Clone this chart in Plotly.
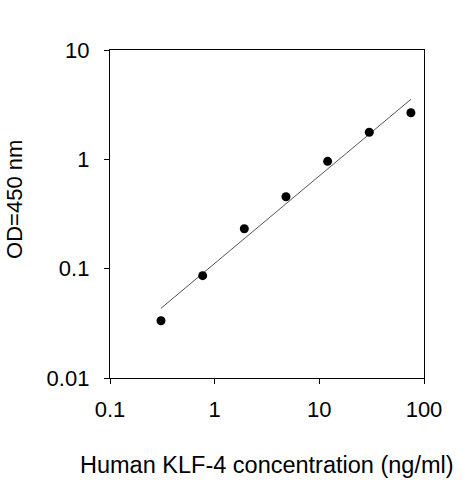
import plotly.graph_objects as go

# standard curve points
conc = [0.307, 0.768, 1.92, 4.8, 12.0, 30.0, 75.0]
od450 = [0.0334, 0.0863, 0.232, 0.455, 0.959, 1.77, 2.67]

# ends of the fitted line
fit_conc = [0.307, 75.0]
fit_od = [0.0434, 3.54]

x_ticks = [0.1, 1, 10, 100]
x_labels = ["0.1", "1", "10", "100"]
y_ticks = [0.01, 0.1, 1, 10]
y_labels = ["0.01", "0.1", "1", "10"]

FONT = "Liberation Sans, Arial, sans-serif"


def main():
    fig = go.Figure()

    fig.add_trace(go.Scatter(
        x=fit_conc, y=fit_od, mode="lines",
        line=dict(color="#555555", width=1),
        hoverinfo="skip",
    ))
    fig.add_trace(go.Scatter(
        x=conc, y=od450, mode="markers",
        marker=dict(color="black", size=9),
    ))

    axis_style = dict(
        type="log",
        showline=True, linecolor="black", linewidth=1.3, mirror=True,
        ticks="outside", ticklen=5, tickcolor="black", tickwidth=1.3,
        showgrid=False, zeroline=False,
        tickfont=dict(family=FONT, size=22, color="black"),
    )
    fig.update_xaxes(range=[-1, 2], tickvals=x_ticks, ticktext=x_labels,
                     ticklabelstandoff=6, **axis_style)
    fig.update_yaxes(range=[-2, 1], tickvals=y_ticks, ticktext=y_labels,
                     ticklabelstandoff=10, **axis_style)

    fig.add_annotation(text="Human KLF-4 concentration (ng/ml)",
                       xref="paper", yref="paper", x=0.5, y=-0.265,
                       xanchor="center", yanchor="middle", showarrow=False,
                       font=dict(family=FONT, size=23.5, color="black"))
    fig.add_annotation(text="OD=450 nm", textangle=-90,
                       xref="paper", yref="paper", x=-0.3025, y=0.543,
                       xanchor="center", yanchor="middle", showarrow=False,
                       font=dict(family=FONT, size=22, color="black"))

    fig.update_layout(
        width=463, height=480,
        margin=dict(l=110, r=39, t=50, b=102),
        paper_bgcolor="white", plot_bgcolor="white",
        showlegend=False,
    )
    # drop the default 8px body margin so the figure fills the window
    fig.write_html("out.html", config={"displayModeBar": False},
                   post_script="document.body.style.margin='0';")


if __name__ == "__main__":
    main()
